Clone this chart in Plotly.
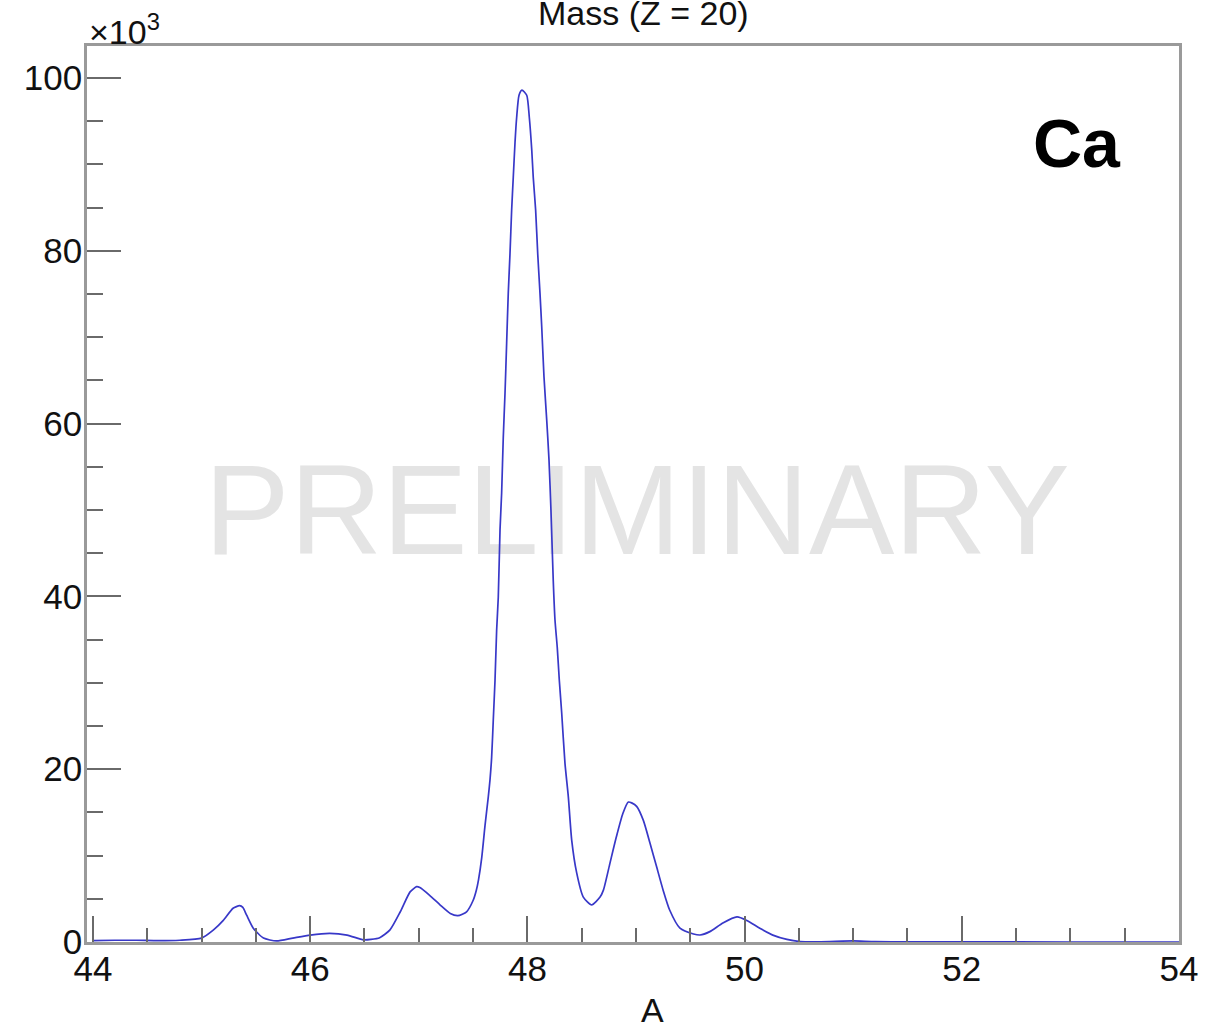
import plotly.graph_objects as go

# Histogram: A (mass number) vs counts in thousands
mass_A = [44.00, 44.20, 44.40, 44.60, 44.80, 45.00, 45.11, 45.20, 45.29, 45.35,
          45.38, 45.415, 45.476, 45.57, 45.69, 45.84, 46.00, 46.18, 46.34, 46.49,
          46.56, 46.64, 46.735, 46.83, 46.92, 46.98, 47.01, 47.10, 47.195, 47.29,
          47.36, 47.44, 47.50, 47.53, 47.55, 47.58, 47.61, 47.64, 47.656, 47.671,
          47.686, 47.702, 47.717, 47.732, 47.748, 47.763, 47.778, 47.794, 47.809, 47.824,
          47.840, 47.855, 47.870, 47.886, 47.901, 47.923, 47.95, 47.994, 48.018, 48.040,
          48.054, 48.076, 48.095, 48.116, 48.132, 48.153, 48.178, 48.199, 48.217, 48.238,
          48.254, 48.275, 48.294, 48.316, 48.346, 48.377, 48.408, 48.454, 48.515, 48.592,
          48.669, 48.70, 48.76, 48.82, 48.88, 48.93, 48.96, 49.006, 49.067, 49.13,
          49.19, 49.25, 49.31, 49.405, 49.53, 49.59, 49.68, 49.80, 49.93, 50.02,
          50.14, 50.26, 50.39, 50.51, 50.70, 50.90, 51.00, 51.20, 51.50, 52.00,
          53.00, 54.00]
counts_k = [0.15, 0.20, 0.20, 0.15, 0.20, 0.45, 1.4, 2.5, 3.9, 4.2,
            4.0, 3.1, 1.6, 0.45, 0.12, 0.45, 0.8, 1.0, 0.8, 0.25,
            0.3, 0.5, 1.4, 3.5, 5.8, 6.4, 6.3, 5.4, 4.3, 3.3,
            3.05, 3.5, 4.8, 6.0, 7.2, 9.8, 13.5, 16.8, 18.8, 21.4,
            25.7, 30.3, 36.1, 39.9, 47.7, 52.0, 58.4, 63.5, 69.3, 75.1,
            79.7, 84.7, 88.5, 92.5, 95.4, 98.0, 98.6, 98.0, 95.4, 91.7,
            88.5, 84.7, 79.7, 75.1, 71.2, 65.4, 60.4, 55.8, 50.0, 41.9,
            37.3, 34.1, 30.3, 26.5, 20.7, 16.8, 11.8, 8.0, 5.2, 4.3,
            5.2, 6.0, 9.1, 12.2, 14.9, 16.2, 16.1, 15.7, 14.1, 11.4,
            8.7, 6.0, 3.7, 1.6, 0.93, 0.81, 1.2, 2.2, 2.9, 2.5,
            1.6, 0.8, 0.3, 0.06, 0.03, 0.10, 0.12, 0.05, 0.02, 0.01,
            0.0, 0.0]

x_ticks = [44, 46, 48, 50, 52, 54]
y_ticks = [0, 20, 40, 60, 80, 100]

FONT = "Liberation Sans, Arial, Helvetica, sans-serif"
FRAME = "#9a9a9a"
TICK = "#6a6a6a"

fig = go.Figure()

# watermark below the curve
fig.add_trace(go.Scatter(
    x=[49.01], y=[48.6], mode="text", text=["PRELIMINARY"],
    textposition="middle center",
    textfont=dict(family=FONT, size=128, color="#e4e4e4"),
    hoverinfo="skip", showlegend=False))

fig.add_trace(go.Scatter(
    x=mass_A, y=counts_k, mode="lines",
    line=dict(color="#3838c8", width=1.7, shape="spline", smoothing=0.6),
    showlegend=False))

fig.update_layout(
    width=1209, height=1031,
    margin=dict(l=87, r=30, t=46, b=89),
    paper_bgcolor="white", plot_bgcolor="white",
    font=dict(family=FONT, size=34, color="#111111"),
    xaxis=dict(
        range=[43.945, 54.0], tickvals=x_ticks, ticktext=[str(v) for v in x_ticks],
        ticks="inside", ticklen=26, tickwidth=2, tickcolor=TICK,
        minor=dict(dtick=0.5, tick0=44, ticks="inside", ticklen=14, tickwidth=2, tickcolor=TICK),
        showline=True, linecolor=FRAME, linewidth=2.5, mirror=True,
        showgrid=False, zeroline=False, automargin=False,
        ticklabelstandoff=-6,
        tickfont=dict(size=35, family=FONT, color="#111111"),
    ),
    yaxis=dict(
        range=[0, 103.7], tickvals=y_ticks, ticktext=[str(v) for v in y_ticks],
        ticks="inside", ticklen=34, tickwidth=2, tickcolor=TICK,
        minor=dict(dtick=5, tick0=0, ticks="inside", ticklen=16, tickwidth=2, tickcolor=TICK),
        showline=True, linecolor=FRAME, linewidth=2.5, mirror=True,
        showgrid=False, zeroline=False, automargin=False,
        ticklabelstandoff=-5,
        tickfont=dict(size=35, family=FONT, color="#111111"),
    ),
)

annotations = [
    dict(text="Mass (Z = 20)", x=0.510, y=1.0368, xref="paper", yref="paper",
         xanchor="center", yanchor="middle", showarrow=False,
         font=dict(size=34, family=FONT, color="#111111")),
    dict(text="×10<sup>3</sup>", x=0.0, y=1.018, xref="paper", yref="paper",
         xanchor="left", yanchor="middle", showarrow=False,
         font=dict(size=34, family=FONT, color="#111111")),
    dict(text="<b>Ca</b>", x=0.9066, y=0.8917, xref="paper", yref="paper",
         xanchor="center", yanchor="middle", showarrow=False,
         font=dict(size=68, family=FONT, color="#000000")),
    dict(text="A", x=0.5174, y=-0.0759, xref="paper", yref="paper",
         xanchor="center", yanchor="middle", showarrow=False,
         font=dict(size=34, family=FONT, color="#111111")),
]
fig.update_layout(annotations=annotations)

fig.write_html(
    "out.html",
    config={"displayModeBar": False},
    post_script="document.body.style.margin='0';document.body.style.padding='0';",
)
